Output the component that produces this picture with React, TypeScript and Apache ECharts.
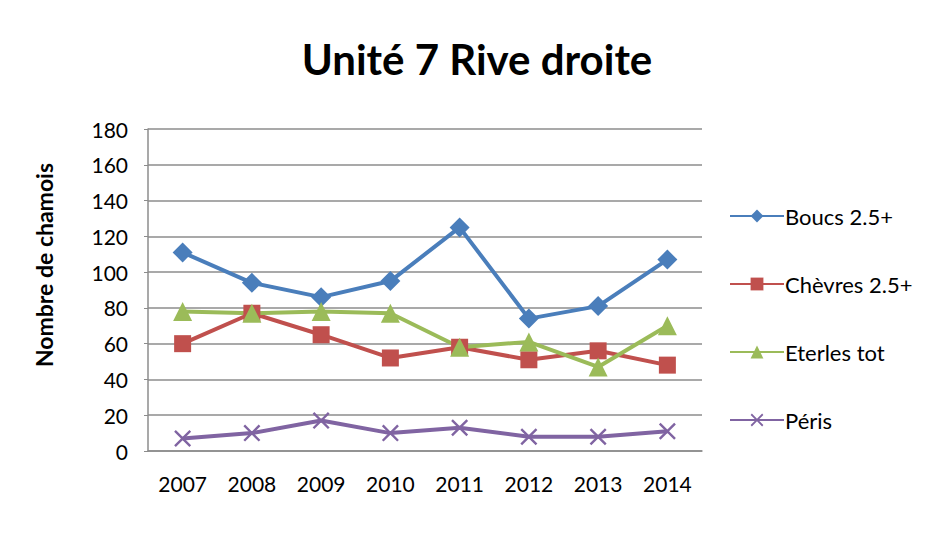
import React, { useEffect, useRef } from "react";
import * as echarts from "echarts";

const years = ["2007", "2008", "2009", "2010", "2011", "2012", "2013", "2014"];
const boucs = [111, 94, 86, 95, 125, 74, 81, 107];
const chevres = [60, 77, 65, 52, 58, 51, 56, 48];
const eterles = [78, 77, 78, 77, 58, 61, 47, 70];
const peris = [7, 10, 17, 10, 13, 8, 8, 11];

const FONT = "Lato, 'Open Sans', sans-serif";
const CROSS = "path://M0,1L1,0L5,4L9,0L10,1L6,5L10,9L9,10L5,6L1,10L0,9L4,5Z";

export default function App() {
  const ref = useRef<HTMLDivElement>(null);
  useEffect(() => {
    if (!ref.current) return;
    const chart = echarts.init(ref.current, undefined, { renderer: "svg" });
    const mk = (name: string, data: number[], color: string, symbol: string, size: number) => ({
      name,
      type: "line",
      data,
      symbol,
      symbolSize: size,
      showAllSymbol: true,
      lineStyle: { color, width: 4 },
      itemStyle: { color },
    });
    chart.setOption({
      animation: false,
      backgroundColor: "#fff",
      textStyle: { fontFamily: FONT },
      title: {
        text: "Unité 7 Rive droite",
        left: 472,
        textAlign: "center",
        top: 33,
        textStyle: { fontFamily: FONT, fontSize: 42, fontWeight: "bold", color: "#000" },
      },
      graphic: [
        {
          type: "rect",
          z: 100,
          shape: { x: 6, y: 6, width: 2, height: 538 },
          style: { fill: "#888888" },
          silent: true,
        },
        {
          type: "rect",
          z: 100,
          shape: { x: 6, y: 6, width: 932, height: 2 },
          style: { fill: "#888888" },
          silent: true,
        },
        {
          type: "text",
          x: 44,
          y: 265,
          rotation: Math.PI / 2,
          style: {
            text: "Nombre de chamois",
            fontFamily: FONT,
            fontSize: 23,
            fontWeight: "bold",
            fill: "#000",
            align: "center",
            verticalAlign: "middle",
          },
        },
      ],
      legend: {
        orient: "vertical",
        left: 724,
        top: 200,
        itemWidth: 54,
        itemHeight: 16,
        itemGap: 46,
        textStyle: { fontFamily: FONT, fontSize: 22, color: "#000", padding: [0, 0, 0, -4] },
        data: ["Boucs 2.5+", "Chèvres 2.5+", "Eterles tot", "Péris"],
      },
      grid: { left: 148, right: 237, top: 129, bottom: 94, containLabel: false },
      xAxis: {
        type: "category",
        data: years,
        boundaryGap: true,
        axisLine: { lineStyle: { color: "#8c8c8c", width: 1.5 } },
        axisTick: { show: false },
        axisLabel: { color: "#000", fontSize: 21, fontFamily: FONT, margin: 22 },
      },
      yAxis: {
        type: "value",
        min: 0,
        max: 180,
        interval: 20,
        axisLine: { show: true, lineStyle: { color: "#8c8c8c", width: 1.5 } },
        axisTick: { show: true, length: 4, lineStyle: { color: "#8c8c8c" } },
        splitLine: { lineStyle: { color: "#8c8c8c", width: 1.5 } },
        axisLabel: { color: "#000", fontSize: 21, fontFamily: FONT, margin: 20 },
      },
      series: [
        mk("Boucs 2.5+", boucs, "#4a7ebb", "diamond", 20),
        mk("Chèvres 2.5+", chevres, "#c0504d", "rect", 17),
        mk("Eterles tot", eterles, "#9bbb59", "triangle", 19),
        mk("Péris", peris, "#8064a2", CROSS, 17),
      ],
    });
    return () => chart.dispose();
  }, []);
  return (
    <div style={{ margin: -8, padding: 0 }}>
      <div ref={ref} style={{ width: 939, height: 545 }} />
    </div>
  );
}
